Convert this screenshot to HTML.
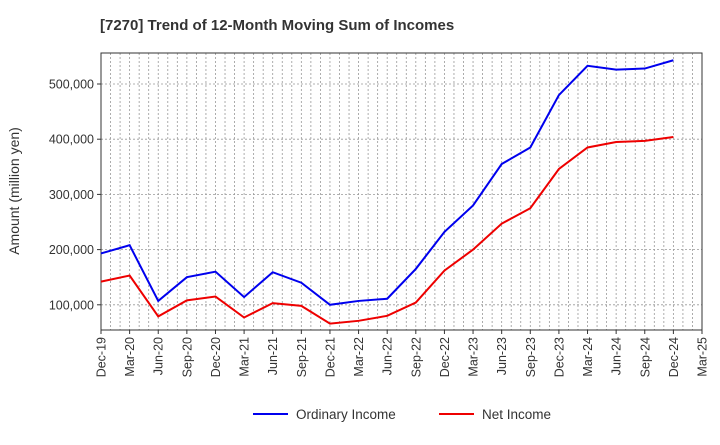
<!DOCTYPE html>
<html><head><meta charset="utf-8"><style>
body{margin:0;background:#fff;font-family:"Liberation Sans",Arial,sans-serif}
</style></head><body>
<svg id="c" width="720" height="440" xmlns="http://www.w3.org/2000/svg">
<text x="100" y="30" font-size="15" font-weight="bold" fill="#333">[7270]  Trend of 12-Month Moving Sum of Incomes</text>
<g id="grid"></g><g id="axes"></g><g id="series"></g>
<text transform="translate(19,191) rotate(-90)" text-anchor="middle" font-size="14" fill="#333">Amount (million yen)</text>
<g>
<line x1="253" y1="414" x2="288" y2="414" stroke="#0000ee" stroke-width="2"/>
<text x="296" y="419" font-size="13.5" fill="#333">Ordinary Income</text>
<line x1="439" y1="414" x2="474" y2="414" stroke="#ee0000" stroke-width="2"/>
<text x="482" y="419" font-size="13.5" fill="#333">Net Income</text>
</g>
</svg>
<script>
const categories=["Dec-19","Mar-20","Jun-20","Sep-20","Dec-20","Mar-21","Jun-21","Sep-21","Dec-21","Mar-22","Jun-22","Sep-22","Dec-22","Mar-23","Jun-23","Sep-23","Dec-23","Mar-24","Jun-24","Sep-24","Dec-24","Mar-25"];
const ordinaryIncome=[193,208,107,150,160,114,159,140,100,107,111,165,232,280,355,385,480,533,526,528,543];
const netIncome=[142,153,79,108,115,77,103,98,66,71,80,104,162,200,247,275,346,385,395,397,404];
const yTicks=[100000,200000,300000,400000,500000];
const L=101,R=702,T=53,B=330;
const xs=i=>L+(R-L)*i/21;
const ys=v=>360-v*0.552;
const NS="http://www.w3.org/2000/svg";
function mk(p,t,a){const e=document.createElementNS(NS,t);for(const k in a)e.setAttribute(k,a[k]);p.appendChild(e);return e;}
const g=document.getElementById('grid'),ax=document.getElementById('axes'),s=document.getElementById('series');
for(let m=1;m<63;m++){const x=L+(R-L)*m/63;const l=mk(g,'line',{x1:x,x2:x,y1:T,y2:B,stroke:'#999','stroke-dasharray':'2,2','stroke-width':0.8});
}
yTicks.forEach(v=>{const y=ys(v/1000);const l=mk(g,'line',{x1:L,x2:R,y1:y,y2:y,stroke:'#999','stroke-dasharray':'2,2','stroke-width':0.8});

mk(ax,'line',{x1:L-4,x2:L,y1:y,y2:y,stroke:'#333'});
const t=mk(ax,'text',{x:L-7,y:y+4.5,'text-anchor':'end','font-size':12.5,fill:'#333'});t.textContent=v.toLocaleString('en-US');
});
const fr=mk(ax,'rect',{x:L,y:T,width:R-L,height:B-T,fill:'none',stroke:'#333'});

categories.forEach((c,i)=>{const x=xs(i);mk(ax,'line',{x1:x,x2:x,y1:B,y2:B+4,stroke:'#333'});
const t=mk(ax,'text',{transform:`translate(${x+4.5},${B+7}) rotate(-90)`,'text-anchor':'end','font-size':12.5,fill:'#333'});t.textContent=c;
});
function line(d,col,name){const p=mk(s,'polyline',{points:d.map((v,i)=>xs(i)+','+ys(v)).join(' '),fill:'none',stroke:col,'stroke-width':2});
}
line(ordinaryIncome,'#0000ee','ordinary-income-line');
line(netIncome,'#ee0000','net-income-line');
</script>
</body></html>
